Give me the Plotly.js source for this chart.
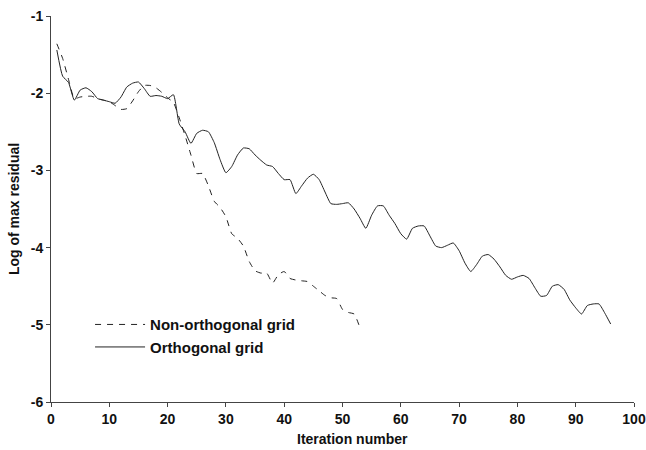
<!DOCTYPE html>
<html>
<head>
<meta charset="utf-8">
<script src="https://cdn.plot.ly/plotly-3.0.1.min.js"></script>
<style>
html,body{margin:0;padding:0;background:#fff;}
#chart{width:646px;height:450px;}
</style>
</head>
<body>
<div id="chart"></div>
<script>
// Orthogonal grid: log of max residual per iteration
var orthoIter = [1,2,3,4,5,6,7,8,9,10,11,12,13,14,15,16,17,18,19,20,21,22,23,24,25,26,27,28,29,30,31,32,33,34,35,36,37,38,39,40,41,42,43,44,45,46,47,48,49,50,51,52,53,54,55,56,57,58,59,60,61,62,63,64,65,66,67,68,69,70,71,72,73,74,75,76,77,78,79,80,81,82,83,84,85,86,87,88,89,90,91,92,93,94,95,96];
var orthoVal = [-1.44,-1.78,-1.86,-2.09,-1.96,-1.93,-1.98,-2.07,-2.09,-2.11,-2.13,-2.05,-1.92,-1.87,-1.855,-1.94,-2.04,-2.03,-2.04,-2.07,-2.02,-2.40,-2.50,-2.65,-2.52,-2.48,-2.50,-2.64,-2.86,-3.03,-2.95,-2.80,-2.71,-2.72,-2.80,-2.87,-2.93,-2.95,-3.04,-3.12,-3.12,-3.30,-3.20,-3.10,-3.05,-3.12,-3.28,-3.43,-3.44,-3.43,-3.42,-3.50,-3.62,-3.75,-3.58,-3.46,-3.46,-3.58,-3.69,-3.82,-3.89,-3.75,-3.72,-3.72,-3.85,-3.98,-4.00,-3.97,-3.94,-4.04,-4.20,-4.31,-4.22,-4.11,-4.09,-4.15,-4.25,-4.36,-4.41,-4.38,-4.36,-4.40,-4.52,-4.63,-4.62,-4.50,-4.48,-4.54,-4.68,-4.78,-4.86,-4.75,-4.73,-4.73,-4.85,-4.99];

// Non-orthogonal grid
var nonOrthoIter = [1,2,3,4,5,6,7,8,9,10,11,12,13,14,15,16,17,18,19,20,21,22,23,24,25,26,27,28,29,30,31,32,33,34,35,36,37,38,39,40,41,42,43,44,45,46,47,48,49,50,51,52,53];
var nonOrthoVal = [-1.36,-1.55,-1.82,-2.07,-2.05,-2.04,-2.04,-2.07,-2.09,-2.11,-2.16,-2.21,-2.20,-2.10,-1.98,-1.90,-1.90,-1.93,-1.99,-2.06,-2.12,-2.32,-2.55,-2.80,-3.04,-3.04,-3.20,-3.40,-3.48,-3.60,-3.82,-3.88,-3.98,-4.18,-4.30,-4.33,-4.33,-4.46,-4.35,-4.31,-4.40,-4.42,-4.43,-4.44,-4.50,-4.56,-4.62,-4.65,-4.66,-4.80,-4.84,-4.86,-5.04];

var xTicks = [0,10,20,30,40,50,60,70,80,90,100];
var yTicks = [-1,-2,-3,-4,-5,-6];
var xTitle = 'Iteration number';
var yTitle = 'Log of max residual';

var FONT = 'Liberation Sans, Arial, Helvetica, sans-serif';

var traces = [
  {
    x: nonOrthoIter, y: nonOrthoVal, type: 'scatter', mode: 'lines',
    name: 'Non-orthogonal grid',
    line: {color: '#222', width: 1, dash: '6px,6px', shape: 'spline', smoothing: 0.5}
  },
  {
    x: orthoIter, y: orthoVal, type: 'scatter', mode: 'lines',
    name: 'Orthogonal grid',
    line: {color: '#222', width: 1, shape: 'spline', smoothing: 0.5}
  }
];

var layout = {
  width: 646, height: 450,
  margin: {l: 51, r: 12, t: 16, b: 48, pad: 0},
  paper_bgcolor: '#fff', plot_bgcolor: '#fff',
  showlegend: true,
  legend: {
    x: 0.067, y: 0.243, xanchor: 'left', yanchor: 'top',
    bgcolor: 'rgba(0,0,0,0)', borderwidth: 0,
    itemwidth: 50,
    font: {family: FONT, size: 15, color: '#111', weight: 'bold'},
    tracegroupgap: 0
  },
  xaxis: {
    range: [0, 100], tickvals: xTicks, ticktext: xTicks.map(String),
    showgrid: false, zeroline: false,
    showline: true, linecolor: '#444', linewidth: 1,
    ticks: 'outside', ticklen: 4, tickcolor: '#444',
    tickfont: {family: FONT, size: 14, color: '#111', weight: 'bold'}
  },
  yaxis: {
    range: [-6, -1], tickvals: yTicks, ticktext: yTicks.map(String),
    showgrid: false, zeroline: false,
    showline: true, linecolor: '#444', linewidth: 1,
    ticks: 'outside', ticklen: 4, tickcolor: '#444',
    tickfont: {family: FONT, size: 14, color: '#111', weight: 'bold'},
    title: {text: yTitle, font: {family: FONT, size: 14, color: '#111', weight: 'bold'}, standoff: 7}
  },
  annotations: [
    {
      text: xTitle, xref: 'paper', yref: 'paper', x: 0.518, y: -0.095,
      xanchor: 'center', yanchor: 'middle', showarrow: false,
      font: {family: FONT, size: 14, color: '#111', weight: 'bold'}
    }
  ]
};

Plotly.newPlot('chart', traces, layout, {staticPlot: true, displayModeBar: false});
</script>
</body>
</html>
